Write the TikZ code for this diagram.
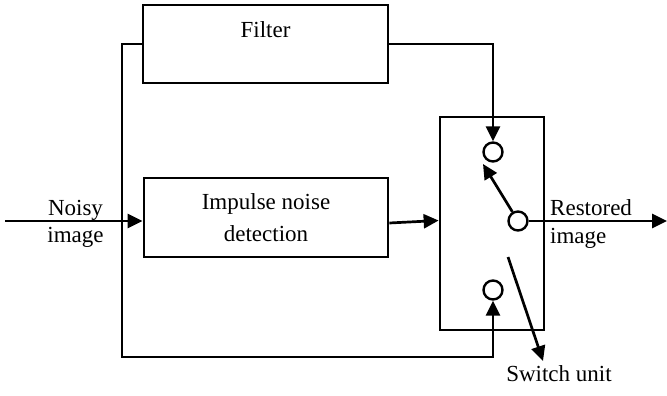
\documentclass[tikz,border=0pt]{standalone}
\usepackage{fontspec}
\setmainfont{Liberation Serif}
\usetikzlibrary{arrows.meta,calc}
\begin{document}
\begin{tikzpicture}[x=1pt,y=-1pt,
  wire/.style={line width=2.7pt},
  arrow/.style={wire,-{Triangle[length=15pt,width=14pt]}},
  box/.style={draw,line width=2.7pt,rectangle,inner sep=0pt},
  contact/.style={draw,line width=2.4pt,circle,fill=white,minimum size=19pt,inner sep=0pt},
  lbl/.style={inner sep=0pt,font=\fontsize{23}{32}\selectfont}]
\useasboundingbox (0,0) rectangle (667,396);

% blocks
\node[box,minimum width=245pt,minimum height=78pt] (filter) at (265.5,44) {};
\node[lbl,anchor=base] (filtertext) at (265.5,38) {Filter};
\node[box,minimum width=244pt,minimum height=79pt,align=center,font=\fontsize{23}{32}\selectfont] (det) at (266,217.5) {Impulse noise\\detection};
\node[box,minimum width=104pt,minimum height=213pt] (sw) at (492,223.5) {};

% switch contacts
\node[contact] (c1) at (493,152) {};
\node[contact] (c2) at (518,221) {};
\node[contact] (c3) at (493,290) {};

% signal points
\coordinate (in) at (5,221);
\coordinate (split) at (122,221);
\coordinate (corner) at (122,357);
\coordinate (out) at (667,221);
\coordinate (armtip) at (483,164);
\coordinate (legtop) at (508,257);
\coordinate (legtip) at (543,361);

% connectors
\draw[arrow] (in) -- (in -| det.west);
\draw[wire] (split) |- (filter.west);
\draw[arrow] (split) -- (corner) -| (c3.south);
\draw[arrow] (filter.east) -| (c1.north);
\draw[arrow] ([yshift=-5.5pt]det.east) -- ([yshift=3pt]sw.west);
\draw[arrow] (c2) -- (armtip);
\draw[arrow] (legtop) -- (legtip);
\draw[arrow] (c2.east) -- (out);

% labels
\node[lbl,anchor=base] (noisy) at (75.5,215) {Noisy};
\node[lbl,anchor=base] (noisyimg) at (75.5,242) {image};
\node[lbl,anchor=base west] (restored) at (550,215) {Restored};
\node[lbl,anchor=base west] (restoredimg) at (550,243) {image};
\node[lbl,anchor=base] (switchunit) at (559,381) {Switch unit};
\end{tikzpicture}
\end{document}
